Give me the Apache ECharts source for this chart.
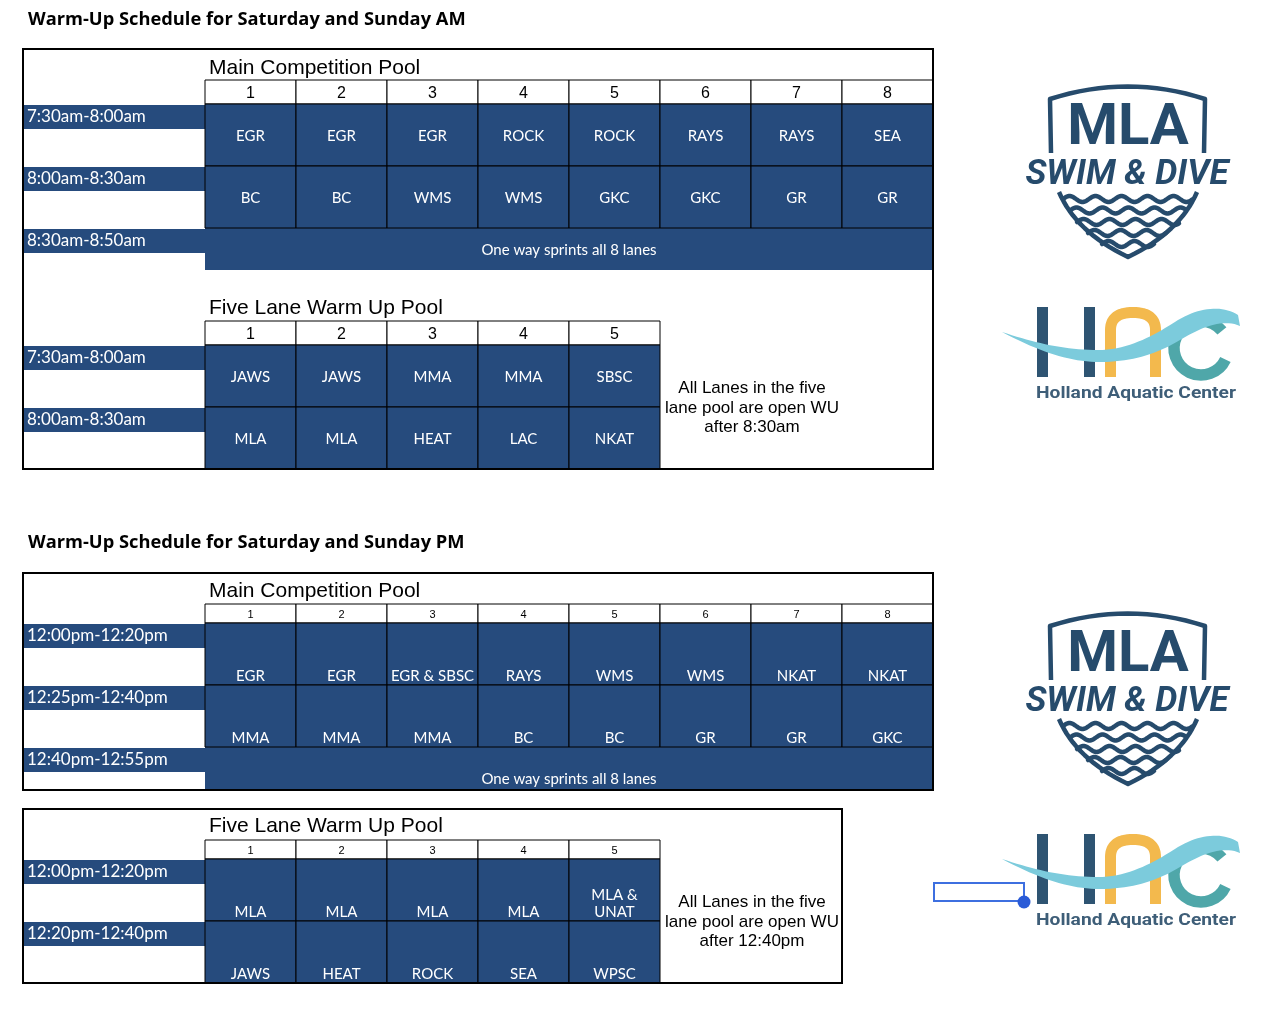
<!DOCTYPE html>
<html>
<head>
<meta charset="utf-8">
<script src="https://cdn.jsdelivr.net/npm/echarts@6/dist/echarts.min.js"></script>
<style>html,body{margin:0;padding:0;background:#fff;}#c{width:1282px;height:1010px;}</style>
</head>
<body>
<div id="c"></div>
<script>
// ---------- data ----------
const TITLES = ['Warm-Up Schedule for Saturday and Sunday AM', 'Warm-Up Schedule for Saturday and Sunday PM'];
const MAIN_POOL = 'Main Competition Pool';
const FIVE_POOL = 'Five Lane Warm Up Pool';
const LANES_MAIN = ['1', '2', '3', '4', '5', '6', '7', '8'];
const LANES_FIVE = ['1', '2', '3', '4', '5'];
const AM_MAIN_SLOTS = ['7:30am-8:00am', '8:00am-8:30am'];
const AM_MAIN_SPRINT = ['8:30am-8:50am'];
const AM_MAIN_TEAMS = [
  ['EGR', 'EGR', 'EGR', 'ROCK', 'ROCK', 'RAYS', 'RAYS', 'SEA'],
  ['BC', 'BC', 'WMS', 'WMS', 'GKC', 'GKC', 'GR', 'GR']
];
const AM_FIVE_SLOTS = ['7:30am-8:00am', '8:00am-8:30am'];
const AM_FIVE_TEAMS = [
  ['JAWS', 'JAWS', 'MMA', 'MMA', 'SBSC'],
  ['MLA', 'MLA', 'HEAT', 'LAC', 'NKAT']
];
const PM_MAIN_SLOTS = ['12:00pm-12:20pm', '12:25pm-12:40pm'];
const PM_MAIN_SPRINT = ['12:40pm-12:55pm'];
const PM_MAIN_TEAMS = [
  ['EGR', 'EGR', 'EGR & SBSC', 'RAYS', 'WMS', 'WMS', 'NKAT', 'NKAT'],
  ['MMA', 'MMA', 'MMA', 'BC', 'BC', 'GR', 'GR', 'GKC']
];
const PM_FIVE_SLOTS = ['12:00pm-12:20pm', '12:20pm-12:40pm'];
const PM_FIVE_TEAMS = [
  ['MLA', 'MLA', 'MLA', 'MLA', 'MLA &\nUNAT'],
  ['JAWS', 'HEAT', 'ROCK', 'SEA', 'WPSC']
];
const SPRINT_TEXT = 'One way sprints all 8 lanes';
const AM_NOTE = 'All Lanes in the five\nlane pool are open WU\nafter 8:30am';
const PM_NOTE = 'All Lanes in the five\nlane pool are open WU\nafter 12:40pm';

// ---------- styles / layout ----------
const BLUE = '#264b7d';
const LOGO = '#264b6c';
const LANE_W = 91, ROW_H = 62, SPRINT_H = 42, LEFT = 205;
const CELL_FONT = '15px Lato';
const tables = [
  { lanes: LANES_MAIN, hdrTop: 80, hdrH: 24, hdrFont: 16, slotTop: 104, slots: AM_MAIN_SLOTS, teams: AM_MAIN_TEAMS, sprintTop: 228, sprint: AM_MAIN_SPRINT, bottom: false },
  { lanes: LANES_FIVE, hdrTop: 321, hdrH: 24, hdrFont: 16, slotTop: 345, slots: AM_FIVE_SLOTS, teams: AM_FIVE_TEAMS, bottom: false },
  { lanes: LANES_MAIN, hdrTop: 604, hdrH: 19, hdrFont: 11, slotTop: 623, slots: PM_MAIN_SLOTS, teams: PM_MAIN_TEAMS, sprintTop: 747, sprint: PM_MAIN_SPRINT, bottom: true },
  { lanes: LANES_FIVE, hdrTop: 840, hdrH: 19, hdrFont: 11, slotTop: 859, slots: PM_FIVE_SLOTS, teams: PM_FIVE_TEAMS, bottom: true }
];

const grids = [], xAxes = [], yAxes = [], series = [];

function timeAxis(cats, gi, rowH) {
  return {
    type: 'category', gridIndex: gi, data: cats, inverse: true,
    axisLine: { show: false }, axisTick: { show: false }, splitLine: { show: false },
    axisLabel: {
      show: true, interval: 0, margin: 0, align: 'right', verticalAlign: 'middle',
      formatter: v => '{t|' + v + '}\n{s|}',
      rich: {
        t: { width: 178, height: 24, padding: [0, 0, 0, 4], backgroundColor: BLUE, color: '#fff',
             fontFamily: 'Lato', fontSize: 17, align: 'left', verticalAlign: 'middle' },
        s: { height: rowH - 26 }
      }
    }
  };
}
function hiddenCat(cats, gi) {
  return { type: 'category', gridIndex: gi, data: cats, show: false, inverse: true };
}
function addGrid(top, w, h) {
  grids.push({ left: LEFT, top: top, width: w, height: h, containLabel: false, outerBoundsMode: 'none', show: false });
  return grids.length - 1;
}

tables.forEach(tb => {
  const n = tb.lanes.length, W = n * LANE_W;
  // header
  let gi = addGrid(tb.hdrTop, W, tb.hdrH);
  xAxes.push({ type: 'category', gridIndex: gi, data: tb.lanes, show: false });
  yAxes.push(hiddenCat(['h'], gi));
  const hdrData = tb.lanes.map((l, i) => [i, 0]);
  series.push({
    type: 'custom', xAxisIndex: gi, yAxisIndex: gi, data: hdrData, z: 3,
    renderItem: (p, api) => {
      const c = api.coord([api.value(0), api.value(1)]);
      const s = api.size([1, 1]);
      return { type: 'group', children: [
        { type: 'rect', shape: { x: c[0] - s[0] / 2, y: c[1] - s[1] / 2, width: s[0], height: s[1] },
          style: { fill: '#fff', stroke: '#000', lineWidth: 1 } },
        { type: 'text', style: { text: tb.lanes[p.dataIndex], x: c[0], y: c[1] + 1.5, align: 'center', verticalAlign: 'middle',
          fill: '#000', font: tb.hdrFont + 'px "Liberation Sans", Arial' } }
      ] };
    }
  });
  // slots
  gi = addGrid(tb.slotTop, W, tb.slots.length * ROW_H);
  xAxes.push({ type: 'category', gridIndex: gi, data: tb.lanes, show: false });
  yAxes.push(timeAxis(tb.slots, gi, ROW_H));
  const cellData = [], cellText = [];
  tb.teams.forEach((row, r) => row.forEach((t, c) => { cellData.push([c, r]); cellText.push(t); }));
  series.push({
    type: 'custom', xAxisIndex: gi, yAxisIndex: gi, data: cellData, z: 3,
    renderItem: (p, api) => {
      const c = api.coord([api.value(0), api.value(1)]);
      const s = api.size([1, 1]);
      const y0 = c[1] - s[1] / 2;
      return { type: 'group', children: [
        { type: 'rect', shape: { x: c[0] - s[0] / 2, y: y0, width: s[0], height: s[1] },
          style: { fill: BLUE, stroke: '#000', lineWidth: 1 } },
        { type: 'text', style: { text: cellText[p.dataIndex], x: c[0], y: tb.bottom ? y0 + s[1] - 0.5 : c[1] + 1,
          align: 'center', verticalAlign: tb.bottom ? 'bottom' : 'middle', lineHeight: 17,
          fill: '#fff', font: CELL_FONT } }
      ] };
    }
  });
  // sprint row
  if (tb.sprint) {
    gi = addGrid(tb.sprintTop, W, SPRINT_H);
    xAxes.push({ type: 'category', gridIndex: gi, data: tb.lanes, show: false });
    yAxes.push(timeAxis(tb.sprint, gi, SPRINT_H));
    series.push({
      type: 'custom', xAxisIndex: gi, yAxisIndex: gi, data: [[0, 0, n - 1]], z: 2,
      encode: { x: [0, 2], y: 1 },
      renderItem: (p, api) => {
        const a = api.coord([api.value(0), api.value(1)]);
        const b = api.coord([api.value(2), api.value(1)]);
        const s = api.size([1, 1]);
        const x0 = a[0] - s[0] / 2, x1 = b[0] + s[0] / 2, y0 = a[1] - s[1] / 2;
        return { type: 'group', children: [
          { type: 'rect', shape: { x: x0, y: y0, width: x1 - x0, height: s[1] }, style: { fill: BLUE } },
          { type: 'text', style: { text: SPRINT_TEXT, x: (x0 + x1) / 2, y: tb.bottom ? y0 + s[1] - 1 : a[1] + 1.5,
            align: 'center', verticalAlign: tb.bottom ? 'bottom' : 'middle', lineHeight: 17, fill: '#fff', font: CELL_FONT } }
        ] };
      }
    });
  }
});

// ---------- decorations (logos) ----------
function pts(d) {
  const tok = d.match(/[MLQCZ]|-?[\d.]+/g);
  const out = []; let i = 0, cx = 0, cy = 0, cmd = '';
  const num = () => parseFloat(tok[i++]);
  while (i < tok.length) {
    if (/[MLQCZ]/.test(tok[i])) cmd = tok[i++];
    if (cmd === 'Z') continue;
    if (cmd === 'M' || cmd === 'L') { cx = num(); cy = num(); out.push([cx, cy]); }
    else if (cmd === 'Q') {
      const qx = num(), qy = num(), x = num(), y = num();
      for (let k = 1; k <= 16; k++) { const t = k / 16, u = 1 - t;
        out.push([u * u * cx + 2 * u * t * qx + t * t * x, u * u * cy + 2 * u * t * qy + t * t * y]); }
      cx = x; cy = y;
    } else if (cmd === 'C') {
      const ax = num(), ay = num(), bx = num(), by = num(), x = num(), y = num();
      for (let k = 1; k <= 20; k++) { const t = k / 20, u = 1 - t;
        out.push([u*u*u*cx + 3*u*u*t*ax + 3*u*t*t*bx + t*t*t*x, u*u*u*cy + 3*u*u*t*ay + 3*u*t*t*by + t*t*t*y]); }
      cx = x; cy = y;
    }
  }
  return out;
}
function line(d, color, w) {
  return { type: 'polyline', shape: { points: pts(d) }, style: { stroke: color, lineWidth: w, fill: null, lineJoin: 'round' } };
}
// decorative sine wave of the MLA logo
function wave(x0, x1, y) {
  const p = [];
  for (let x = x0; x <= x1 + 0.01; x += 1) p.push([x, y - 3 * Math.sin((x - x0) / 26 * 2 * Math.PI)]);
  return { type: 'polyline', shape: { points: p }, style: { stroke: LOGO, lineWidth: 4.5, fill: null, lineCap: 'round' } };
}
function logos(dy) {
  const mla = [
    line('M1051,153 L1050,99 Q1128,74 1205,99 L1204,153', LOGO, 4.5),
    { type: 'text', style: { text: 'MLA', x: 1128, y: 129, align: 'center', verticalAlign: 'middle', fill: LOGO, font: 'bold 58px Roboto' } },
    { type: 'text', style: { text: 'SWIM & DIVE', x: 1127, y: 175, align: 'center', verticalAlign: 'middle', fill: LOGO, font: 'italic bold 35px Roboto' } },
    line('M1059,192 Q1076,232 1128,257 Q1180,232 1197,192', LOGO, 4.5)
  ];
  [[1063, 1193, 199], [1070, 1186, 210.5], [1077, 1179, 222], [1088, 1166, 233], [1102, 1154, 244]].forEach(w => {
    mla.push(wave(w[0], w[1], w[2]));
  });
  const hac = [
    { type: 'rect', shape: { x: 1037, y: 307, width: 11, height: 70 }, style: { fill: '#2e5472' } },
    { type: 'rect', shape: { x: 1084, y: 307, width: 11, height: 70 }, style: { fill: '#2e5472' } },
    line('M1110.5,377 L1110.5,330 Q1110.5,312.5 1133,312.5 Q1155.5,312.5 1155.5,330 L1155.5,377', '#f3b94d', 11),
    { type: 'arc', shape: { cx: 1201, cy: 348, r: 27, startAngle: 0.44, endAngle: 5.6, clockwise: true }, style: { stroke: '#4fa7a9', lineWidth: 11.5, fill: null } },
    { type: 'polygon', shape: { points: pts('M1002,332 C1040,352 1070,362 1100,362 C1135,362 1160,352 1180,340 C1200,328 1222,318 1240,326 L1238,315 C1222,305 1200,307 1178,320 C1158,333 1130,350 1098,350 C1065,350 1035,343 1002,332') }, style: { fill: '#7ccbdc' } },
    { type: 'text', x: 1136, y: 394, scaleX: 1.2, style: { text: 'Holland Aquatic Center', x: 0, y: 0, align: 'center', verticalAlign: 'middle', fill: '#3e5e78', font: 'bold 16px Roboto' } }
  ];
  return { type: 'group', x: 0, y: dy, children: mla.concat(hac) };
}
function poolTitle(text, y) {
  return { type: 'text', style: { text: text, x: 209, y: y, verticalAlign: 'middle', fill: '#000', font: '21px "Liberation Sans", Arial' } };
}
function note(text, y) {
  return { type: 'text', style: { text: text, x: 752, y: y, align: 'center', verticalAlign: 'middle', lineHeight: 19.5, fill: '#000', font: '17px "Liberation Sans", Arial' } };
}
function box(x, y, w, h) {
  return { type: 'rect', z: 100, shape: { x: x, y: y, width: w, height: h }, style: { fill: null, stroke: '#000', lineWidth: 2 } };
}

const graphic = [
  { type: 'text', style: { text: TITLES[0], x: 28, y: 20, verticalAlign: 'middle', fill: '#000', font: 'bold 18.3px "Open Sans"' } },
  { type: 'text', style: { text: TITLES[1], x: 28, y: 543, verticalAlign: 'middle', fill: '#000', font: 'bold 18.3px "Open Sans"' } },
  poolTitle(MAIN_POOL, 68), poolTitle(FIVE_POOL, 308), poolTitle(MAIN_POOL, 591), poolTitle(FIVE_POOL, 826),
  note(AM_NOTE, 408), note(PM_NOTE, 922),
  box(23, 49, 910, 420), box(23, 573, 910, 217), box(23, 809, 819, 174),
  logos(0), logos(527),
  { type: 'rect', z: 110, shape: { x: 934, y: 883, width: 90, height: 18 }, style: { fill: null, stroke: '#3d6fe0', lineWidth: 2 } },
  { type: 'circle', z: 111, shape: { cx: 1024, cy: 902, r: 6.5 }, style: { fill: '#2a5bd7' } }
];

const chart = echarts.init(document.getElementById('c'), null, { renderer: 'canvas' });
chart.setOption({
  backgroundColor: '#fff',
  animation: false,
  grid: grids, xAxis: xAxes, yAxis: yAxes, series: series,
  graphic: graphic
});
</script>
</body>
</html>
